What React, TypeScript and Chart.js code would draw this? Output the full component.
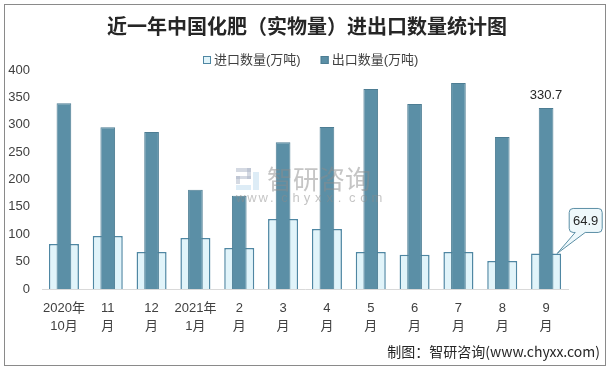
import React, { useEffect, useRef } from "react";
import { Chart, registerables } from "chart.js";

Chart.register(...registerables);

const TITLE = "近一年中国化肥（实物量）进出口数量统计图";
const FOOTER = "制图：智研咨询(www.chyxx.com)";
const WATERMARK_CN = "智研咨询";
const WATERMARK_EN = "www.chyxx.com";

const categories: string[][] = [
  ["2020年", "10月"],
  ["11", "月"],
  ["12", "月"],
  ["2021年", "1月"],
  ["2", "月"],
  ["3", "月"],
  ["4", "月"],
  ["5", "月"],
  ["6", "月"],
  ["7", "月"],
  ["8", "月"],
  ["9", "月"],
];

const importLabel = "进口数量(万吨)";
const exportLabel = "出口数量(万吨)";

const importValues = [82.1, 96.7, 67.5, 93.0, 74.8, 127.7, 109.4, 67.5, 62.6, 67.5, 51.1, 64.9];
const exportValues = [339.2, 295.4, 286.9, 181.1, 170.2, 268.1, 296.0, 365.3, 338.0, 376.3, 277.8, 330.7];

const Y_MIN = 0;
const Y_MAX = 400;
const Y_STEP = 50;

const IMPORT_FILL = "#e1f4fa";
const IMPORT_BORDER = "#4f87a3";
const EXPORT_FILL = "#5b8fa6";
const EXPORT_BORDER = "#4d7d93";
const TEXT = "#404040";
const FONT = '"Liberation Sans", Arial, "Noto Sans CJK SC", sans-serif';

const decor = {
  id: "decor",
  beforeDraw(chart: any) {
    const ctx = chart.ctx;
    ctx.save();
    ctx.fillStyle = "#ffffff";
    ctx.fillRect(0, 0, chart.width, chart.height);
    ctx.restore();
  },
  afterDatasetsDraw(chart: any) {
    const ctx = chart.ctx;
    // watermark
    ctx.save();
    ctx.globalAlpha = 0.5;
    ctx.fillStyle = "#aab4c6";
    ctx.fillRect(236, 168, 15, 4);
    ctx.fillRect(247, 168, 4, 11);
    ctx.fillRect(236, 176, 15, 3);
    ctx.fillRect(236, 176, 4, 8);
    ctx.fillStyle = "#bcd9ee";
    ctx.fillRect(253, 172, 6, 18);
    ctx.fillRect(236, 185, 15, 5);
    ctx.fillStyle = "#8c8c8c";
    ctx.font = '26px "Noto Sans CJK SC", sans-serif';
    ctx.textBaseline = "middle";
    ctx.textAlign = "left";
    ctx.fillText(WATERMARK_CN, 267, 179);
    ctx.font = '13px "Liberation Sans", sans-serif';
    const chars = WATERMARK_EN.split("");
    chars.forEach((c, i) => ctx.fillText(c, 236 + i * 11.3, 198));
    ctx.restore();

    // data labels for last category
    const last = categories.length - 1;
    const expBar = chart.getDatasetMeta(1).data[last];
    const impBar = chart.getDatasetMeta(0).data[last];
    ctx.save();
    ctx.font = "13px " + FONT;
    ctx.fillStyle = "#262626";
    ctx.textAlign = "center";
    ctx.textBaseline = "bottom";
    ctx.fillText(String(exportValues[last]), expBar.x, expBar.y - 6);

    // callout
    const tipX = impBar.x + impBar.width * 0.37;
    const tipY = impBar.y;
    const bx = tipX + 12;
    const by = tipY - 45;
    const bw = 33;
    const bh = 24;
    const r = 4;
    ctx.beginPath();
    ctx.moveTo(bx + r, by);
    ctx.lineTo(bx + bw - r, by);
    ctx.arcTo(bx + bw, by, bx + bw, by + r, r);
    ctx.lineTo(bx + bw, by + bh - r);
    ctx.arcTo(bx + bw, by + bh, bx + bw - r, by + bh, r);
    ctx.lineTo(bx + 16, by + bh);
    ctx.lineTo(tipX, tipY);
    ctx.lineTo(bx + 6, by + bh);
    ctx.lineTo(bx + r, by + bh);
    ctx.arcTo(bx, by + bh, bx, by + bh - r, r);
    ctx.lineTo(bx, by + r);
    ctx.arcTo(bx, by, bx + r, by, r);
    ctx.closePath();
    ctx.fillStyle = "#eef8fb";
    ctx.fill();
    ctx.strokeStyle = "#5b8fa6";
    ctx.lineWidth = 1;
    ctx.stroke();
    ctx.fillStyle = "#262626";
    ctx.textBaseline = "middle";
    ctx.fillText(String(importValues[last]), bx + bw / 2, by + bh / 2 + 0.5);
    ctx.restore();
  },
  afterDraw(chart: any) {
    const ctx = chart.ctx;
    ctx.save();
    // title
    ctx.font = 'bold 20px "Noto Sans CJK SC", sans-serif';
    ctx.fillStyle = "#262626";
    ctx.textAlign = "center";
    ctx.textBaseline = "middle";
    ctx.fillText(TITLE, 307, 26);
    // legend
    ctx.font = "13px " + FONT;
    ctx.textBaseline = "middle";
    ctx.textAlign = "left";
    const items = [
      { text: importLabel, fill: IMPORT_FILL, stroke: IMPORT_BORDER },
      { text: exportLabel, fill: EXPORT_FILL, stroke: EXPORT_BORDER },
    ];
    let x = 203;
    const ly = 60;
    items.forEach((it) => {
      ctx.fillStyle = it.fill;
      ctx.fillRect(x, ly - 4, 8, 8);
      ctx.strokeStyle = it.stroke;
      ctx.lineWidth = 1;
      ctx.strokeRect(x + 0.5, ly - 3.5, 7, 7);
      ctx.fillStyle = TEXT;
      ctx.fillText(it.text, x + 11, ly);
      x += 11 + ctx.measureText(it.text).width + 20;
    });
    // footer
    ctx.font = '14px "Noto Sans CJK SC", sans-serif';
    ctx.fillStyle = "#262626";
    ctx.textAlign = "right";
    ctx.fillText(FOOTER, 600, 352);
    // frame
    ctx.strokeStyle = "#8a8a8a";
    ctx.lineWidth = 1;
    ctx.strokeRect(4.5, 4.5, 601, 361);
    ctx.restore();
  },
};

export default function App() {
  const ref = useRef<HTMLCanvasElement>(null);
  useEffect(() => {
    const canvas = ref.current!;
    const chart = new Chart(canvas, {
      type: "bar",
      data: {
        labels: categories,
        datasets: [
          {
            label: importLabel,
            data: importValues,
            backgroundColor: IMPORT_FILL,
            borderColor: IMPORT_BORDER,
            borderWidth: 1.5,
            grouped: false,
            barPercentage: 0.685,
            categoryPercentage: 1,
            order: 1,
          } as any,
          {
            label: exportLabel,
            data: exportValues,
            backgroundColor: EXPORT_FILL,
            borderColor: EXPORT_BORDER,
            borderWidth: 1,
            grouped: false,
            barPercentage: 0.335,
            categoryPercentage: 1,
            order: 0,
          } as any,
        ],
      },
      options: {
        responsive: false,
        animation: false,
        devicePixelRatio: 1,
        layout: { padding: { left: 0, right: 45, top: 70, bottom: 0 } },
        plugins: {
          legend: { display: false },
          tooltip: { enabled: false },
          title: { display: false },
        },
        scales: {
          x: {
            grid: { display: false, drawTicks: false },
            border: { display: true, color: "#d9d9d9", width: 1 },
            ticks: {
              color: TEXT,
              font: { family: FONT, size: 13, lineHeight: 1.42 },
              padding: 10,
              maxRotation: 0,
              autoSkip: false,
            },
            afterFit: (s: any) => {
              s.height = 82;
            },
          },
          y: {
            min: Y_MIN,
            max: Y_MAX,
            ticks: {
              stepSize: Y_STEP,
              padding: 12,
              color: TEXT,
              font: { family: FONT, size: 13 },
            },
            grid: { display: false, drawTicks: false },
            border: { display: false },
            afterFit: (s: any) => {
              s.width = 42;
            },
          },
        },
      },
      plugins: [decor],
    });
    return () => chart.destroy();
  }, []);
  return (
    <div style={{ position: "fixed", left: 0, top: 0, width: 613, height: 371, background: "#fff" }}>
      <canvas ref={ref} width={613} height={371} style={{ display: "block", width: 613, height: 371 }} />
    </div>
  );
}
